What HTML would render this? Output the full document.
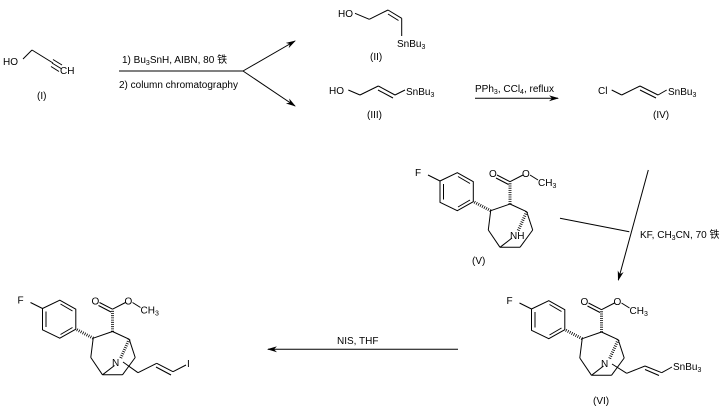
<!DOCTYPE html>
<html><head><meta charset="utf-8"><style>
html,body{margin:0;padding:0;background:#fff}
svg{display:block}
text{font-family:"Liberation Sans","Noto Sans CJK SC",sans-serif;font-size:10px;fill:#000}
.s{font-size:7px}
</style></head><body>
<svg width="724" height="408" viewBox="0 0 724 408" xmlns="http://www.w3.org/2000/svg">
<defs>
<marker id="ah" markerWidth="10" markerHeight="6" refX="9" refY="3" orient="auto" markerUnits="userSpaceOnUse">
<path d="M0,0 L10,3 L0,6 L3,3 Z" fill="#000"/></marker>
<g id="core">
 <g stroke="#000" stroke-width="1" fill="none">
  <line x1="428" y1="175" x2="440" y2="181"/>
  <polygon points="440,181 457.3,172.7 473.3,181.7 473.3,201.7 457.3,210.7 440,202.3"/>
  <line x1="443.5" y1="184" x2="443.5" y2="199.5"/>
  <line x1="458" y1="176.5" x2="470" y2="183.5"/>
  <line x1="458" y1="207" x2="470" y2="200"/>
  <line x1="510" y1="204" x2="490.7" y2="210.7"/>
  <line x1="490.7" y1="210.7" x2="488.3" y2="230"/>
  <line x1="488.3" y1="230" x2="500" y2="247.3"/>
  <line x1="500" y1="247.3" x2="520" y2="247.3"/>
  <line x1="520" y1="247.3" x2="532.7" y2="230"/>
  <line x1="532.7" y1="230" x2="526.7" y2="211.7"/>
  <line x1="526.7" y1="211.7" x2="510" y2="204"/>
  <line x1="500" y1="247.3" x2="512" y2="238"/>
  <line x1="510" y1="181.7" x2="497" y2="175"/>
  <line x1="508.5" y1="184.5" x2="496" y2="178"/>
  <line x1="510" y1="181.7" x2="523" y2="175"/>
  <line x1="530" y1="175" x2="538" y2="180"/>
 </g>
 <g stroke="#000" stroke-width="3" stroke-dasharray="0.8,1.4" fill="none">
  <line x1="490.7" y1="210.7" x2="474" y2="202"/>
  <line x1="510" y1="204" x2="510" y2="183"/>
  <line x1="526.7" y1="211.7" x2="518" y2="231"/>
 </g>
 <text x="415" y="176">F</text>
 <text x="489" y="177">O</text>
 <text x="522" y="177">O</text>
 <text x="538" y="186">CH<tspan class="s" dy="2">3</tspan></text>
</g>
</defs>

<!-- (I) -->
<g stroke="#000" stroke-width="1" fill="none">
 <line x1="23" y1="59" x2="32" y2="50"/>
 <line x1="32" y1="50" x2="53" y2="63"/>
 <line x1="53" y1="59.5" x2="62" y2="65"/>
 <line x1="52" y1="63" x2="61" y2="68.5"/>
 <line x1="51" y1="66.5" x2="59" y2="71.5"/>
</g>
<text x="3" y="65">HO</text>
<text x="60" y="74">CH</text>
<text x="37" y="99">(I)</text>

<!-- split arrow -->
<g stroke="#000" stroke-width="1" fill="none">
 <line x1="119" y1="71" x2="243" y2="71"/>
 <line x1="243" y1="71" x2="295" y2="41" marker-end="url(#ah)"/>
 <line x1="243" y1="71" x2="295" y2="106" marker-end="url(#ah)"/>
</g>
<text x="122" y="63">1) Bu<tspan class="s" dy="2">3</tspan><tspan dy="-2">SnH, AIBN, 80 铁</tspan></text>
<text x="119" y="88">2) column chromatography</text>

<!-- (II) -->
<g stroke="#000" stroke-width="1" fill="none">
 <line x1="355" y1="13.3" x2="369.3" y2="19.3"/>
 <line x1="369.3" y1="19.3" x2="388" y2="10"/>
 <line x1="388" y1="10" x2="401.7" y2="18.3"/>
 <line x1="388" y1="14" x2="398.5" y2="20.5"/>
 <line x1="401.7" y1="18.3" x2="401.7" y2="36"/>
</g>
<text x="338" y="17">HO</text>
<text x="397" y="47">SnBu<tspan class="s" dy="2">3</tspan></text>
<text x="370" y="60">(II)</text>

<!-- (III) -->
<g stroke="#000" stroke-width="1" fill="none">
 <line x1="348.3" y1="90" x2="360" y2="95"/>
 <line x1="360" y1="95" x2="378.3" y2="86"/>
 <line x1="378.3" y1="86" x2="395" y2="95"/>
 <line x1="378" y1="90" x2="393" y2="98"/>
 <line x1="395" y1="95" x2="405" y2="90"/>
</g>
<text x="329" y="94">HO</text>
<text x="406" y="95">SnBu<tspan class="s" dy="2">3</tspan></text>
<text x="367" y="118">(III)</text>

<!-- arrow III->IV -->
<line x1="475" y1="98.3" x2="558" y2="98.3" stroke="#000" marker-end="url(#ah)"/>
<text x="475" y="92">PPh<tspan class="s" dy="2">3</tspan><tspan dy="-2">, CCl</tspan><tspan class="s" dy="2">4</tspan><tspan dy="-2">, reflux</tspan></text>

<!-- (IV) -->
<g stroke="#000" stroke-width="1" fill="none">
 <line x1="611.7" y1="90" x2="621.7" y2="95"/>
 <line x1="621.7" y1="95" x2="640" y2="86"/>
 <line x1="640" y1="86" x2="658" y2="95"/>
 <line x1="640" y1="90" x2="656" y2="98"/>
 <line x1="658" y1="95" x2="666.7" y2="90"/>
</g>
<text x="598" y="94">Cl</text>
<text x="668" y="95">SnBu<tspan class="s" dy="2">3</tspan></text>
<text x="653" y="118">(IV)</text>

<!-- (V) -->
<use href="#core"/>
<text x="510" y="239">NH</text>
<text x="472" y="264">(V)</text>

<!-- arrow to VI -->
<g stroke="#000" stroke-width="1" fill="none">
 <line x1="648.3" y1="170" x2="618.3" y2="280" marker-end="url(#ah)"/>
 <line x1="560" y1="218.3" x2="629.3" y2="231.7"/>
</g>
<text x="640" y="238">KF, CH<tspan class="s" dy="2">3</tspan><tspan dy="-2">CN, 70 铁</tspan></text>

<!-- (VI) -->
<use href="#core" transform="translate(91.5,128)"/>
<text x="601" y="367">N</text>
<g stroke="#000" stroke-width="1" fill="none">
 <line x1="612" y1="364" x2="626.7" y2="373.3"/>
 <line x1="626.7" y1="373.3" x2="645" y2="366"/>
 <line x1="645" y1="366" x2="661.7" y2="372.7"/>
 <line x1="645" y1="369.5" x2="659" y2="375.5"/>
 <line x1="661.7" y1="372.7" x2="672" y2="367"/>
</g>
<text x="673" y="370">SnBu<tspan class="s" dy="2">3</tspan></text>
<text x="593" y="404">(VI)</text>

<!-- NIS arrow -->
<line x1="458" y1="349.3" x2="268" y2="349.3" stroke="#000" marker-end="url(#ah)"/>
<text x="337" y="344">NIS, THF</text>

<!-- final -->
<use href="#core" transform="translate(-397.5,127.5)"/>
<text x="112" y="366">N</text>
<g stroke="#000" stroke-width="1" fill="none">
 <line x1="123" y1="362" x2="138" y2="372.7"/>
 <line x1="138" y1="372.7" x2="156.7" y2="363.3"/>
 <line x1="156.7" y1="363.3" x2="173" y2="371.7"/>
 <line x1="156" y1="367" x2="171" y2="375"/>
 <line x1="173" y1="371.7" x2="186" y2="365"/>
</g>
<text x="187" y="367">I</text>
</svg>
</body></html>
